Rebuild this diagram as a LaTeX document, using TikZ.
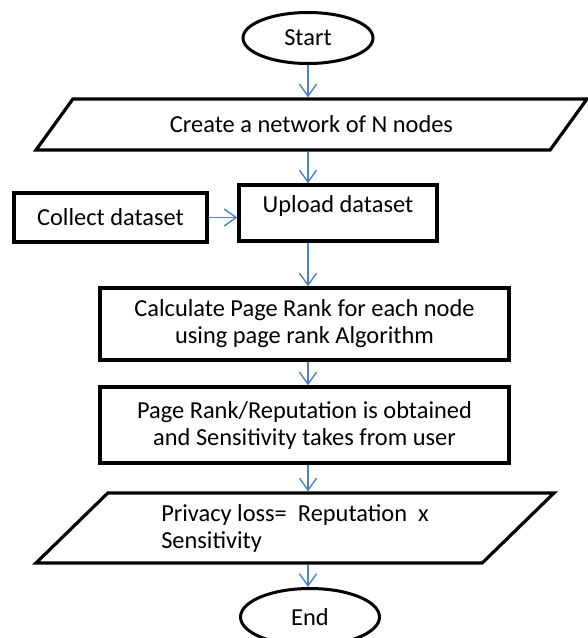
\documentclass[tikz,border=0pt]{standalone}
\usepackage{fontspec}
\setmainfont{Carlito}
\usetikzlibrary{shapes.geometric, arrows.meta, positioning}
\definecolor{flowblue}{HTML}{4F81BD}

\begin{document}
\begin{tikzpicture}[
    x=0.5pt, y=-0.5pt,
    font=\fontsize{12.2}{13.5}\selectfont,
    terminal/.style={ellipse, draw, line width=1.5pt, inner sep=0pt},
    process/.style={rectangle, draw, line width=1.6pt, align=center, inner sep=0pt},
    io/.style={trapezium, draw, line width=1.6pt, trapezium stretches body, inner sep=0pt, align=left},
    arrow/.style={-{Straight Barb[length=6pt, width=8.5pt]}, flowblue, line width=0.7pt}
]
\useasboundingbox (0,0) rectangle (588,638);

\node[terminal, minimum width=65pt, minimum height=25.5pt] (start) at (308,38) {Start};
\node[io, trapezium left angle=24.9, trapezium right angle=155.1, minimum width=275.5pt, minimum height=25.5pt] (network) at (311.5,124.5) {Create a network of N nodes};
\node[process, minimum width=96.5pt, minimum height=24.5pt] (collect) at (110.5,217.5) {Collect dataset};
\node[process, minimum width=99pt, text height=13.5pt, text depth=14.5pt] (upload) at (338,213) {Upload dataset};
\node[process, minimum width=204.5pt, minimum height=36pt] (calc) at (304.5,324) {Calculate Page Rank for each node\\using page rank Algorithm};
\node[process, minimum width=204.5pt, minimum height=38pt] (rep) at (304.5,425) {Page Rank/Reputation is obtained\\and Sensitivity takes from user};
\node[io, trapezium left angle=33.7, trapezium right angle=146.3, minimum width=259pt, minimum height=35pt] (loss) at (295,528) {Privacy loss=~ Reputation~ x\\Sensitivity};
\node[terminal, minimum width=69.5pt, minimum height=28.5pt] (finish) at (310,617) {End};

\draw[arrow] (start) -- (start |- network.north);
\draw[arrow] (network.south -| start) -- (start |- upload.north);
\draw[arrow] (collect) -- (collect -| upload.west);
\draw[arrow] (upload.south -| start) -- (start |- calc.north);
\draw[arrow] (calc.south -| start) -- (start |- rep.north);
\draw[arrow] (rep.south -| start) -- (start |- loss.north);
\draw[arrow] (loss.south -| start) -- (start |- finish.north);

\end{tikzpicture}
\end{document}
